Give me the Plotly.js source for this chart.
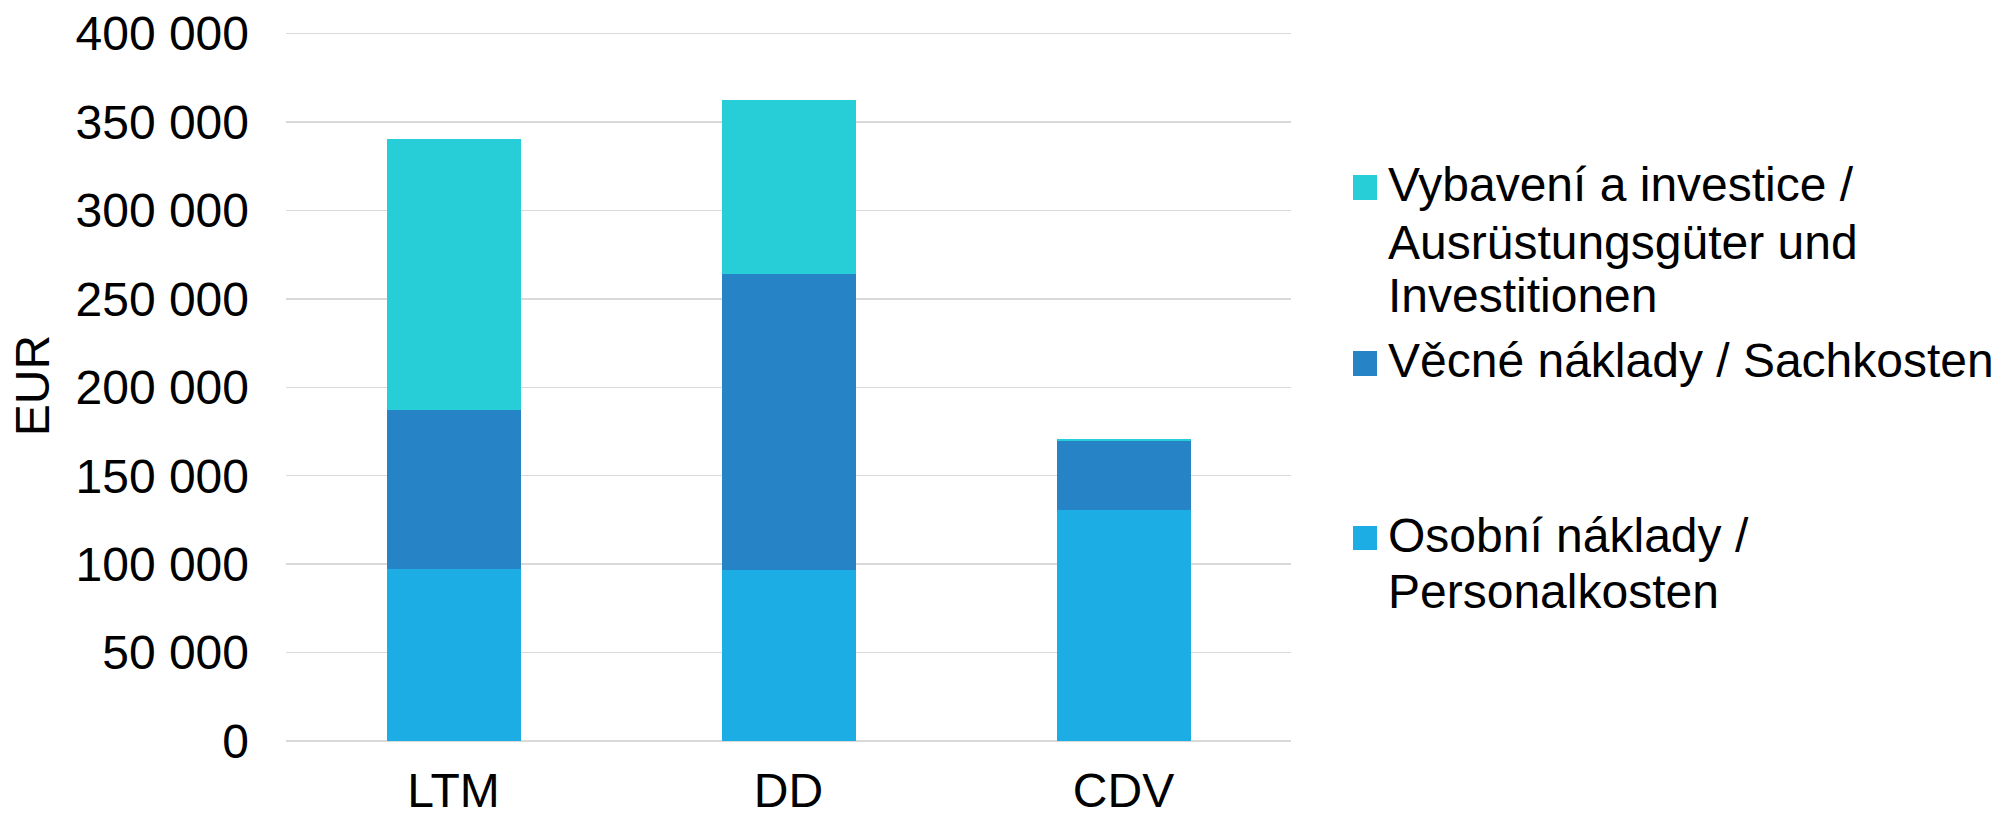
<!DOCTYPE html>
<html>
<head>
<meta charset="utf-8">
<script src="https://cdn.plot.ly/plotly-3.0.1.min.js"></script>
<style>
  html, body { margin: 0; padding: 0; background: #fff; }
  #chart { width: 2005px; height: 815px; }
</style>
</head>
<body>
<div id="chart"></div>
<script>
// ---- data ----
const categories = ['LTM', 'DD', 'CDV'];
const personalkosten = [97500, 96800, 130700];   // Osobní náklady / Personalkosten
const sachkosten = [89500, 167500, 38800];        // Věcné náklady / Sachkosten
const investitionen = [153600, 98300, 1000];      // Vybavení a investice / Ausrüstungsgüter und Investitionen
const yTickValues = [0, 50000, 100000, 150000, 200000, 250000, 300000, 350000, 400000];

const seriesNames = [
  'Osobní náklady / Personalkosten',
  'Věcné náklady / Sachkosten',
  'Vybavení a investice / Ausrüstungsgüter und Investitionen'
];
const legendLines = [
  ['Vybavení a investice /', 'Ausrüstungsgüter und', 'Investitionen'],
  ['Věcné náklady / Sachkosten'],
  ['Osobní náklady /', 'Personalkosten']
];

const colors = { personal: '#1CADE4', sach: '#2683C6', invest: '#27CED7' };
const FONT = 'Liberation Sans, Arial, Helvetica, sans-serif';

// ---- layout geometry ----
const W = 2005, H = 815;
const M = { l: 286, r: 714, t: 30, b: 74 };
const PW = W - M.l - M.r, PH = H - M.t - M.b;
const px = x => (x - M.l) / PW;
const py = y => (H - M.b - y) / PH;

const traces = [
  { type: 'bar', name: seriesNames[0], x: categories, y: personalkosten, marker: { color: colors.personal }, hoverinfo: 'skip' },
  { type: 'bar', name: seriesNames[1], x: categories, y: sachkosten, marker: { color: colors.sach }, hoverinfo: 'skip' },
  { type: 'bar', name: seriesNames[2], x: categories, y: investitionen, marker: { color: colors.invest }, hoverinfo: 'skip' }
];

// custom legend (Excel-like spacing)
const legendItems = [
  { color: colors.invest, lines: legendLines[0], centers: [184.5, 242.5, 295.5], box: [175, 200] },
  { color: colors.sach, lines: legendLines[1], centers: [360.5], box: [351, 376] },
  { color: colors.personal, lines: legendLines[2], centers: [535.5, 591.5], box: [526, 550] }
];
const annotations = [];
const shapes = [];
legendItems.forEach(it => {
  shapes.push({
    type: 'rect', xref: 'paper', yref: 'paper',
    x0: px(1353), x1: px(1377), y0: py(it.box[1]), y1: py(it.box[0]),
    fillcolor: it.color, line: { width: 0 }
  });
  it.lines.forEach((t, i) => {
    annotations.push({
      xref: 'paper', yref: 'paper', x: px(1386), y: py(it.centers[i]),
      xanchor: 'left', yanchor: 'middle', showarrow: false, text: t,
      font: { family: FONT, size: 48, color: '#000' }
    });
  });
});

const layout = {
  width: W, height: H,
  margin: M,
  paper_bgcolor: '#fff', plot_bgcolor: '#fff',
  barmode: 'stack',
  bargap: 0.6,
  showlegend: false,
  separators: '. ',
  font: { family: FONT, size: 48, color: '#000' },
  xaxis: {
    type: 'category',
    showgrid: false, zeroline: false, showline: false,
    ticks: '', ticklabelstandoff: 17,
    tickfont: { family: FONT, size: 48, color: '#000' }
  },
  yaxis: {
    range: [0, 402000],
    tickvals: yTickValues,
    tickformat: ',d',
    showgrid: true, gridcolor: '#d9d9d9', gridwidth: 1.5,
    zeroline: true, zerolinecolor: '#d9d9d9', zerolinewidth: 1.5,
    showline: false, ticks: '', ticklabelstandoff: 36,
    tickfont: { family: FONT, size: 48, color: '#000' },
    title: { text: 'EUR', font: { family: FONT, size: 48, color: '#000' }, standoff: 10 }
  },
  annotations: annotations,
  shapes: shapes
};

Plotly.newPlot('chart', traces, layout, { staticPlot: true, displayModeBar: false });
</script>
</body>
</html>
